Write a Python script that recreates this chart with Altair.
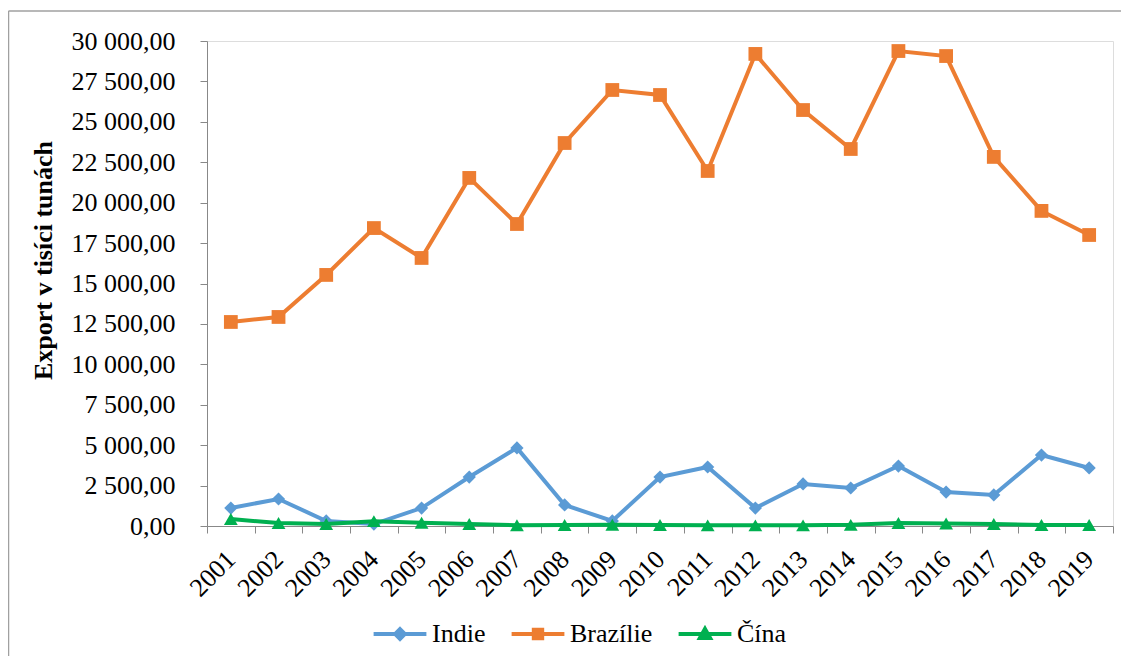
import altair as alt
import pandas as pd

# ---- data ----
years = [str(y) for y in range(2001, 2020)]
india = [1110, 1670, 310, 120, 1110, 3030, 4830, 1300, 310, 3030,
         3650, 1110, 2600, 2350, 3710, 2100, 1920, 4390, 3590]
brazil = [12620, 12930, 15530, 18430, 16580, 21530, 18680, 23690, 26970, 26660,
          21960, 29200, 25730, 23320, 29380, 29070, 22830, 19490, 18000]
china = [430, 180, 120, 300, 200, 120, 50, 60, 80, 60,
         40, 40, 40, 70, 180, 150, 120, 60, 60]
series = ["Indie", "Brazílie", "Čína"]
y_ticks = list(range(0, 30001, 2500))

# ---- styles ----
colors = ["#5B9BD5", "#ED7D31", "#00B050"]
marker_shapes = ["diamond", "square", "triangle-up"]
marker_sizes = [175, 190, 190]
legend_paths = [
    "M-4.4,0H4.4M0,-0.8L0.8,0L0,0.8L-0.8,0ZM0,-0.4L0.4,0L0,0.4L-0.4,0Z",
    "M-4.4,0H4.4M-0.7,-0.7H0.7V0.7H-0.7ZM-0.3,-0.3H0.3V0.3H-0.3Z",
    "M-4.4,0H4.4M0,-0.85L0.85,0.65H-0.85ZM0,-0.35L0.35,0.3H-0.35Z",
]
FONT = "Liberation Serif, Times New Roman, serif"
AX = "#a0a0a0"

rows = []
for name, vals in zip(series, [india, brazil, china]):
    for yr, v in zip(years, vals):
        rows.append({"year": yr, "value": v, "series": name})
df = pd.DataFrame(rows)

x_enc = alt.X(
    "year:N", sort=years,
    scale=alt.Scale(type="band", domain=years, paddingInner=0, paddingOuter=0),
    axis=alt.Axis(title=None, labelAngle=315, labelAlign="right", labelBaseline="middle",
                  labelPadding=22, tickBand="extent", tickSize=7, grid=False,
                  labelFont=FONT, labelFontSize=26, labelColor="black"),
)
y_enc = alt.Y(
    "value:Q",
    scale=alt.Scale(domain=[0, 30000], nice=False, zero=True),
    axis=alt.Axis(
        title="Export v tisíci tunách", values=y_ticks, grid=False, tickSize=7,
        labelPadding=25, labelFont=FONT, labelFontSize=26, labelColor="black",
        labelExpr="replace(replace(format(datum.value, ',.2f'), regexp(',', 'g'), ' '), '.', ',')",
        titleFont=FONT, titleFontSize=26, titleColor="black",
        titleFontWeight="bold", titleAngle=270, titleX=-164, titleY=219,
        titleAlign="center", titleBaseline="middle",
    ),
)

layers = []
# outer chart border: only its left and top edges fall inside the picture
one = alt.Data(values=[{}])
layers.append(alt.Chart(one).mark_rule(color="#a0a0a0", strokeWidth=1.5).encode(
    x=alt.value(-198.5), y=alt.value(-30), y2=alt.value(3000)))
layers.append(alt.Chart(one).mark_rule(color="#a0a0a0", strokeWidth=1.5).encode(
    x=alt.value(-198.5), x2=alt.value(3000), y=alt.value(-30)))

for name, col, shp, sz in zip(series, colors, marker_shapes, marker_sizes):
    base = alt.Chart(df).transform_filter(alt.datum.series == name)
    layers.append(base.mark_line(strokeWidth=4, color=col).encode(x=x_enc, y=y_enc))
    layers.append(base.mark_point(filled=True, opacity=1, color=col, shape=shp, size=sz)
                  .encode(x=x_enc, y=y_enc))

leg = alt.Legend(
    title=None, orient="none", legendX=180, legendY=580, direction="horizontal",
    labelFont=FONT, labelFontSize=26, labelColor="black",
    symbolStrokeWidth=4, symbolSize=144, symbolOpacity=1, labelOffset=19, columnPadding=17,
)
layers.append(
    alt.Chart(df).mark_point(filled=False, opacity=0, strokeWidth=4).encode(
        x=x_enc, y=y_enc,
        color=alt.Color("series:N", sort=series,
                        scale=alt.Scale(domain=series, range=colors), legend=leg),
        shape=alt.Shape("series:N", sort=series,
                        scale=alt.Scale(domain=series, range=legend_paths), legend=leg),
    )
)

chart = alt.layer(*layers).properties(
    width=906, height=485,
    autosize=alt.AutoSizeParams(type="none"),
    padding={"left": 199, "top": 33, "right": 8, "bottom": 130},
).configure_view(stroke=None).configure_axis(
    domainColor=AX, tickColor=AX, domainWidth=1.2, tickWidth=1.2,
    labelFont=FONT, labelFontSize=26, labelColor="black",
    titleFont=FONT, titleFontSize=26, titleColor="black",
).configure_legend(
    labelFont=FONT, labelFontSize=26, labelColor="black",
).configure(font=FONT)

chart.save("out.html", embed_options={"renderer": "svg", "actions": False})
